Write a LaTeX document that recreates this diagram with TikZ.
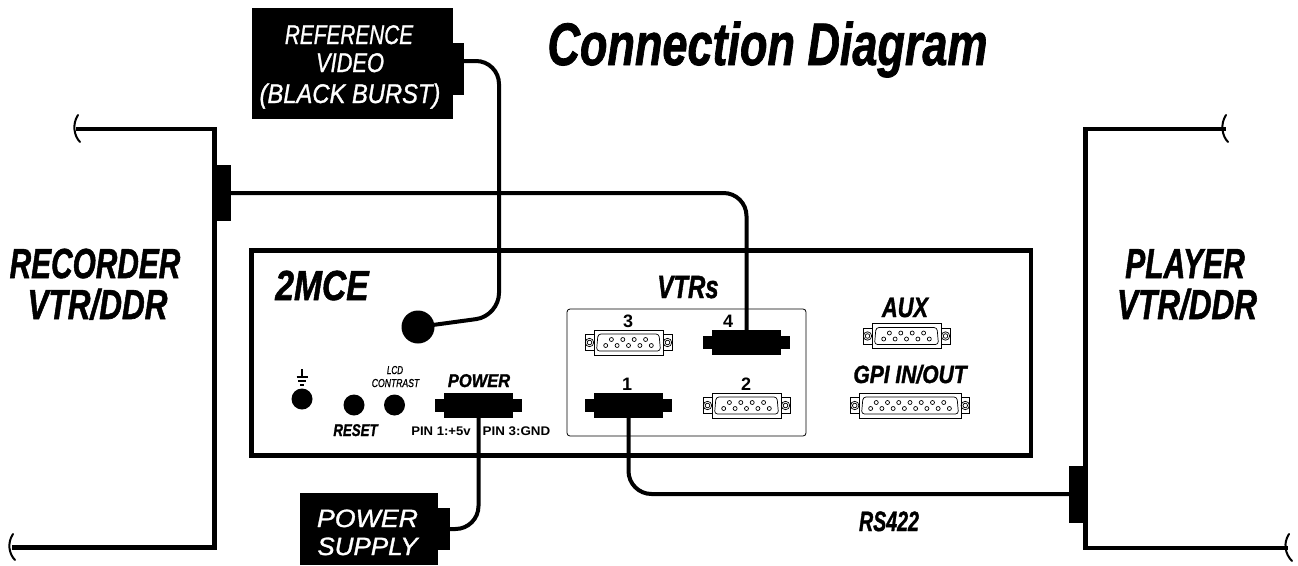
\documentclass[tikz,border=0pt]{standalone}
\usepackage{fontspec}
\setmainfont{Liberation Sans}
\newfontfamily\hvfam[BoldItalicFeatures={FakeBold=1.5}]{Liberation Sans}
\newfontfamily\mdfam[ItalicFeatures={FakeBold=1.2}]{Liberation Sans}
\usetikzlibrary{calc}
\newcommand{\sqz}[2]{\scalebox{#1}[1]{#2}}
\newcommand{\bi}[1]{\hvfam\bfseries\itshape\fontsize{#1}{#1}\selectfont}
\newcommand{\ri}[1]{\mdfam\itshape\fontsize{#1}{#1}\selectfont}
\newcommand{\bu}[1]{\bfseries\fontsize{#1}{#1}\selectfont}
% open D-sub: name, cx, cy, half body width, half total width, pins top, pins bottom
\newcommand{\dsub}[7]{%
  \begin{scope}[shift={(#2,#3)}]
    \draw[thin1,fill=white] (-#5,-8) rectangle (-#4,8);
    \draw[thin1,fill=white] (#5,-8) rectangle (#4,8);
    \node[thin1,draw,fill=white,minimum width=2*#4*1pt,minimum height=25pt,inner sep=0] (#1) at (0,0) {};
    \draw[thin1,rounded corners=3pt] (-#4+4,-8.5) -- (#4-4,-8.5) -- (#4-2.5,8.5) -- (-#4+2.5,8.5) -- cycle;
    \draw[thin1] ({-(#5+#4)/2},0) circle (4.2) circle (2.3);
    \draw[thin1] ({(#5+#4)/2},0) circle (4.2) circle (2.3);
    \pgfmathsetmacro{\pst}{(2*#4-12)/#6}
    \foreach \i in {1,...,#6} \draw[thin1] ({(\i-(#6+1)/2)*\pst},3) circle (2);
    \foreach \i in {1,...,#7} \draw[thin1] ({(\i-(#7+1)/2)*\pst},-3) circle (2);
  \end{scope}}
% filled (occupied) connector: name, cx, cy
\newcommand{\blk}[3]{%
  \fill (#2-43.5,#3-6.5) rectangle (#2+43.5,#3+6.5);
  \node[fill=black,minimum width=69pt,minimum height=25pt,inner sep=0] (#1) at (#2,#3) {};}
\tikzset{
  thin1/.style={line width=0.7pt},
  wall/.style={line width=4.6pt,line cap=butt,line join=miter},
  cable/.style={line width=4pt,rounded corners=23pt},
  squig/.style={line width=2pt,line cap=round},
  lab/.style={inner sep=0,outer sep=0,anchor=base},
  wlab/.style={lab,text=white},
}
\begin{document}
\begin{tikzpicture}[x=1pt,y=-1pt]
\useasboundingbox (0,0) rectangle (1298,565);
% equipment outlines
\draw[wall] (76,129) -- (214.5,129) -- (214.5,547.5) -- (12,547.5);
\draw[wall] (1226,129) -- (1085.5,129) -- (1085.5,548) -- (1288,548);
\draw[squig] (78,115) .. controls (72,124) and (74,136) .. (80,142);
\draw[squig] (1226,115) .. controls (1220,124) and (1222,136) .. (1228,142);
\draw[squig] (13,534) .. controls (7,543) and (9,554) .. (15,560);
\draw[squig] (1289,534) .. controls (1283,543) and (1285,554) .. (1292,561);
% main unit
\node[draw,line width=4.6pt,minimum width=779.5pt,minimum height=205pt,inner sep=0] (unit) at (641.25,353) {};
\node[draw,line width=0.8pt,rounded corners=3pt,minimum width=239pt,minimum height=127pt,inner sep=0] (vtrs) at (686.5,372.5) {};
% side blocks
\node[fill=black,minimum width=15pt,minimum height=56pt,inner sep=0] (recblock) at (223,193) {};
\node[fill=black,minimum width=16pt,minimum height=57pt,inner sep=0] (playblock) at (1077,494) {};
% connectors
\blk{c4}{746.5}{342.5}
\blk{c1}{628.5}{405.5}
\blk{pwr}{478.5}{405.5}
\dsub{c3}{628.5}{342.5}{34.5}{43.5}{5}{4}
\dsub{c2}{746.5}{405.5}{34.5}{43.5}{5}{4}
\dsub{aux}{906.5}{336}{34.5}{43.5}{5}{4}
\dsub{gpi}{910}{405.5}{51}{59.5}{8}{7}
% external boxes
\node[fill=black,minimum width=201pt,minimum height=111pt,inner sep=0] (refbox) at (352.5,63.5) {};
\node[fill=black,minimum width=11pt,minimum height=52pt,inner sep=0] (reftab) at (458,69) {};
\node[fill=black,minimum width=138pt,minimum height=72pt,inner sep=0] (psu) at (369,529) {};
\node[fill=black,minimum width=12pt,minimum height=42pt,inner sep=0] (psutab) at (444,529) {};
% round sockets
\node[circle,fill=black,minimum size=33pt,inner sep=0] (refsock) at (418,327) {};
\node[circle,fill=black,minimum size=21pt,inner sep=0] (gnd) at (302,399) {};
\node[circle,fill=black,minimum size=21pt,inner sep=0] (reset) at (354,405) {};
\node[circle,fill=black,minimum size=21pt,inner sep=0] (contrast) at (394.5,405) {};
% ground symbol
\coordinate (gt) at (302,369);
\draw[line width=1.3pt] (gt) -- ++(0,8);
\draw[line width=1.3pt] ($(gt)+(-5.5,8)$) -- ++(11,0);
\draw[line width=1.3pt] ($(gt)+(-4,12)$) -- ++(8,0);
\draw[line width=1.3pt] ($(gt)+(-2,16)$) -- ++(4,0);
% cables
\draw[cable] (recblock.east) -| (c4.north);
\draw[cable] (c1.south) |- (playblock.west);
\draw[cable] (psutab.east) -| (pwr.south);
\coordinate (refbend) at (499,316);
\draw[cable] ($(reftab.east)+(0,-8)$) -| (refbend) [rounded corners=8pt] -- (refsock.center);
% text
\node[lab] (title) at (767.5,65) {\sqz{.75}{\bi{60}Connection Diagram}};
\node[wlab] (t1) at (349,44) {\sqz{.77}{\ri{27}REFERENCE}};
\node[wlab] (t2) at (350,72) {\sqz{.81}{\ri{27}VIDEO}};
\node[wlab] (t3) at (350,103) {\sqz{.88}{\ri{27}(BLACK BURST)}};
\node[wlab] (t4) at (367.5,527) {\sqz{1.07}{\ri{25}POWER}};
\node[wlab] (t5) at (367.5,555) {\sqz{1.04}{\ri{25}SUPPLY}};
\node[lab] (t6) at (95,278) {\sqz{.71}{\bi{42}RECORDER}};
\node[lab] (t7) at (97.5,319) {\sqz{.75}{\bi{42}VTR/DDR}};
\node[lab] (t8) at (1185,278) {\sqz{.715}{\bi{42}PLAYER}};
\node[lab] (t9) at (1187,319) {\sqz{.75}{\bi{42}VTR/DDR}};
\node[lab] (t10) at (322,300) {\sqz{.8}{\bi{42}2MCE}};
\node[lab] (t11) at (688,298) {\sqz{.75}{\bi{32}VTRs}};
\node[lab] (t12) at (905,317) {\sqz{.78}{\bi{28}AUX}};
\node[lab] (t13) at (910,383) {\sqz{.84}{\bi{25}GPI IN/OUT}};
\node[lab] (t14) at (479,387) {\sqz{.89}{\bi{18.5}POWER}};
\node[lab] (t15) at (395,374) {\sqz{.7}{\ri{11.5}LCD}};
\node[lab] (t16) at (395.5,387) {\sqz{.75}{\ri{11.5}CONTRAST}};
\node[lab] (t17) at (355.5,436) {\sqz{.78}{\bi{17}RESET}};
\node[lab] (t18) at (441,435) {\sqz{1.05}{\bu{12.5}PIN 1:+5v}};
\node[lab] (t19) at (516.5,435) {\sqz{1.07}{\bu{12.5}PIN 3:GND}};
\node[lab] (n3) at (628,327) {\bu{18}3};
\node[lab] (n4) at (728,327) {\bu{18}4};
\node[lab] (n1) at (627,390) {\bu{18}1};
\node[lab] (n2) at (746,390) {\bu{18}2};
\node[lab] (t20) at (889,531) {\sqz{.7}{\bi{28}RS422}};
\end{tikzpicture}
\end{document}
